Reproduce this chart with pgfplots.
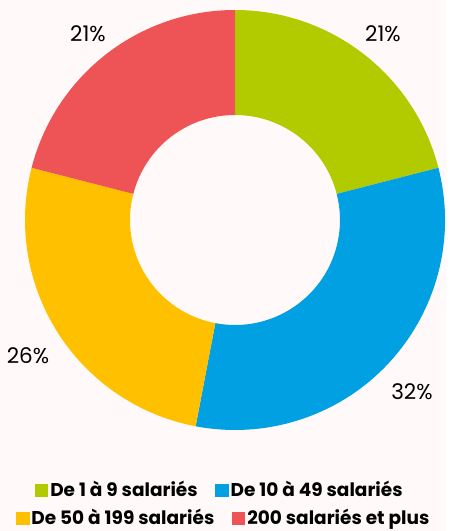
\documentclass[border=0pt]{standalone}
\usepackage{fontspec}
\setmainfont{Poppins}
\usepackage{pgfplots}
\pgfplotsset{compat=1.18}
\definecolor{bg}{RGB}{255,250,249}
\definecolor{cgreen}{RGB}{178,203,0}
\definecolor{cblue}{RGB}{0,160,227}
\definecolor{cyellow}{RGB}{255,192,0}
\definecolor{cred}{RGB}{238,84,85}
% ring slice from cumulative percent #1 to #2, colour #3
\newcommand\slice[3]{%
  \fill[#3] (axis cs:0,0) ++({90-3.6*#1}:210pt)
    arc[start angle={90-3.6*#1}, end angle={90-3.6*#2}, radius=210pt]
    -- ++({270-3.6*#2}:105pt)
    arc[start angle={90-3.6*#2}, end angle={90-3.6*#1}, radius=105pt] -- cycle;}
\pgfplotsset{
  donut/.style={hide axis, scale only axis, x=1pt, y=1pt,
    xmin=-235, xmax=211, ymin=-311, ymax=220, clip=false,
    legend columns=2,
    legend image code/.code={\fill[##1] (0pt,-6.5pt) rectangle (12.5pt,6pt);},
    legend style={draw=none, fill=none, anchor=center,
      font=\bfseries\fontsize{18.5}{20}\selectfont,
      inner sep=0pt, nodes={inner sep=2.5pt},
      /tikz/every even column/.append style={column sep=15pt}},
  },
}
\begin{document}
\begin{tikzpicture}
\begin{axis}[donut, legend style={at={(axis cs:-15,-270)}}]
  \fill[bg] (rel axis cs:0,0) rectangle (rel axis cs:1,1);
  \slice{0}{21}{cgreen}
  \slice{21}{53}{cblue}
  \slice{53}{79}{cyellow}
  \slice{79}{100}{cred}
  \node[font=\fontsize{21.5}{24}\selectfont] at (axis cs:148,186.5) {21\%};
  \node[font=\fontsize{21.5}{24}\selectfont] at (axis cs:177,-172) {32\%};
  \node[font=\fontsize{21.5}{24}\selectfont] at (axis cs:-207,-135.5) {26\%};
  \node[font=\fontsize{21.5}{24}\selectfont] at (axis cs:-147,186.5) {21\%};
  \addlegendimage{cgreen}\addlegendentry{De 1 à 9 salariés}
  \addlegendimage{cblue}\addlegendentry{De 10 à 49 salariés}
\end{axis}
\begin{axis}[donut, legend style={at={(axis cs:-11,-298)}}]
  \addlegendimage{cyellow}\addlegendentry{De 50 à 199 salariés}
  \addlegendimage{cred}\addlegendentry{200 salariés et plus}
\end{axis}
\end{tikzpicture}
\end{document}
